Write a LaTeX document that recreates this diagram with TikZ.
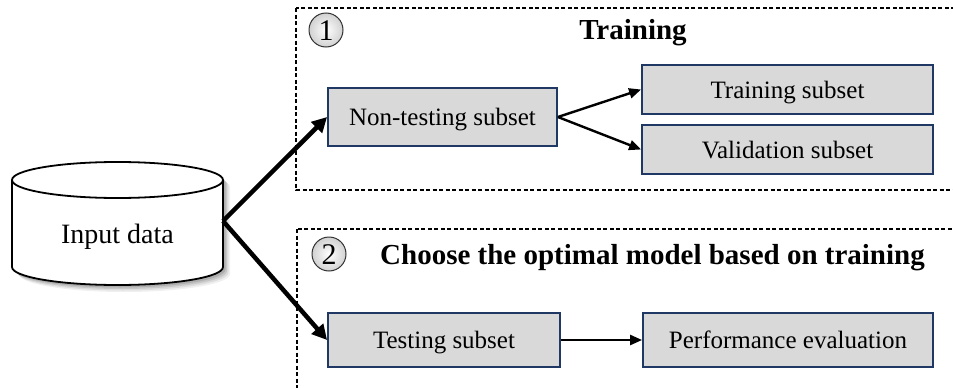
\documentclass[tikz,border=0pt]{standalone}
\usepackage{fontspec}
\setmainfont{Liberation Serif}
\usetikzlibrary{arrows.meta,calc}
\definecolor{boxfill}{RGB}{217,217,217}
\definecolor{boxline}{RGB}{31,56,100}
\tikzset{
  stepbox/.style={draw=boxline, line width=1.8pt, fill=boxfill, inner sep=0pt,
    font=\fontsize{25}{30}\selectfont, text height=18pt, text depth=1pt},
  groupframe/.style={draw=black, line width=1.4pt, dash pattern=on 4pt off 2.5pt},
  numcirc/.style={circle, draw=black!80, line width=1pt, inner color=white, outer color=black!18,
    minimum size=34pt, inner sep=0pt, font=\fontsize{30}{32}\selectfont,
    text height=20.5pt, text depth=0pt},
  heading/.style={font=\fontsize{29}{32}\selectfont\bfseries, inner sep=0pt},
  bigarrow/.style={line width=4.5pt, -{Triangle[length=15pt,width=15pt]}},
  smallarrow/.style={line width=2.4pt, -{Triangle[length=12pt,width=10pt]}},
}
\begin{document}
\begin{tikzpicture}[x=1pt,y=-1pt]
\useasboundingbox (0,0) rectangle (953,388);
\begin{scope}
\clip (0,0) rectangle (953,388);
% dashed group frames
\draw[groupframe] (296,8) rectangle (970,190);
\draw[groupframe] (297,229) rectangle (970,400);
\end{scope}

% cylinder shadow
\foreach \o/\a in {7/0.06,5.5/0.08,4/0.10,2.5/0.12}{
  \fill[black, opacity=\a] (12+\o,180+\o) -- (12+\o,267+\o)
     arc[start angle=180, end angle=360, x radius=105.5pt, y radius=18pt]
     -- (223+\o,180+\o) arc[start angle=0, end angle=180, x radius=105.5pt, y radius=18pt] -- cycle;
}
% cylinder body
\fill[white] (12,180) -- (12,267)
   arc[start angle=180, end angle=360, x radius=105.5pt, y radius=18pt]
   -- (223,180) arc[start angle=0, end angle=180, x radius=105.5pt, y radius=18pt] -- cycle;
\draw[line width=1.8pt] (12,180) -- (12,267)
   arc[start angle=180, end angle=360, x radius=105.5pt, y radius=18pt] -- (223,180);
\draw[line width=1.8pt, fill=white] (117.5,180) ellipse[x radius=105.5pt, y radius=18pt];
\node[font=\fontsize{28}{32}\selectfont] (input) at (117.5,237) {Input data};
\coordinate (src) at (223,221);

% circles and headings
\node[numcirc] (c1) at (326,30) {1};
\node[numcirc] (c2) at (329,254) {2};
\node[heading] (h1) at (633,33) {Training};
\node[heading, anchor=west] (h2) at (380,258) {Choose the optimal model based on training};

% boxes
\node[stepbox, minimum width=229pt, minimum height=58pt] (nontest) at (442.5,117) {Non-testing subset};
\node[stepbox, minimum width=291pt, minimum height=49pt] (train) at (787.5,89.5) {Training subset};
\node[stepbox, minimum width=291pt, minimum height=49pt] (valid) at (787.5,149.5) {Validation subset};
\node[stepbox, minimum width=232pt, minimum height=54pt] (test) at (444,340) {Testing subset};
\node[stepbox, minimum width=290pt, minimum height=54pt] (perf) at (788,340) {Performance evaluation};

% arrows
\draw[bigarrow] (src) -- (nontest.west);
\draw[bigarrow] (src) -- (test.west);
\draw[smallarrow] (nontest.east) -- (train.west);
\draw[smallarrow] (nontest.east) -- (valid.west);
\draw[smallarrow] (test.east) -- (perf.west);
\end{tikzpicture}
\end{document}
